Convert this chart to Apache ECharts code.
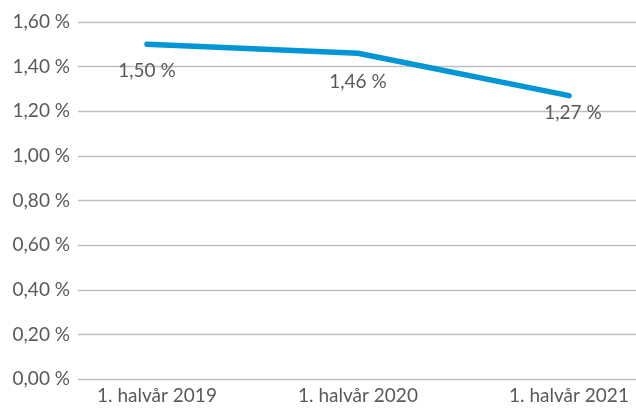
<!DOCTYPE html>
<html><head><meta charset="utf-8">
<script src="https://cdn.jsdelivr.net/npm/echarts@6/dist/echarts.min.js"></script>
<style>html,body{margin:0;padding:0;background:#fff}#c{width:636px;height:412px}</style>
</head><body><div id="c"></div>
<script>
const categories = ['1. halvår 2019', '1. halvår 2020', '1. halvår 2021'];
const values = [1.50, 1.46, 1.27];
const yTicks = [0, 0.2, 0.4, 0.6, 0.8, 1.0, 1.2, 1.4, 1.6];
const labelOffsets = [[0, 16], [0, 18], [4, 7]];

const fmt = v => v.toFixed(2).replace('.', ',') + ' %';
const font = 'Lato, "Open Sans", sans-serif';
const chart = echarts.init(document.getElementById('c'), null, {renderer: 'canvas'});
chart.setOption({
  animation: false,
  grid: [
    {left: 78, width: 558, top: 22, height: 357, outerBoundsMode: 'none', containLabel: false},
    {left: 41.5, width: 633, top: 22, height: 357, outerBoundsMode: 'none', containLabel: false}
  ],
  xAxis: [
    {gridIndex: 0, type: 'category', data: categories, show: false},
    {gridIndex: 1, type: 'category', data: categories.map((c, i) => i === 0 ? {value: c, textStyle: {padding: [0, 0, 0, 20]}} : c),
     axisLine: {show: false}, axisTick: {show: false},
     axisLabel: {color: '#595959', fontSize: 19, fontFamily: font, margin: 7}}
  ],
  yAxis: [
    {gridIndex: 0, type: 'value', min: yTicks[0], max: yTicks[yTicks.length - 1], interval: 0.2,
     axisLine: {show: false}, axisTick: {show: false},
     axisLabel: {color: '#595959', fontSize: 19, fontFamily: font, margin: 8, formatter: fmt},
     splitLine: {lineStyle: {color: '#bfbfbf', width: 1.3}}},
    {gridIndex: 1, type: 'value', min: yTicks[0], max: yTicks[yTicks.length - 1], interval: 0.2, show: false, splitLine: {show: false}}
  ],
  series: [{
    type: 'line', xAxisIndex: 1, yAxisIndex: 1,
    data: values.map((v, i) => ({value: v, label: {distance: labelOffsets[i][1], offset: [labelOffsets[i][0], 0]}})),
    symbol: 'circle', symbolSize: 2, showSymbol: true,
    itemStyle: {color: 'rgba(0,0,0,0)'},
    lineStyle: {color: '#0096d6', width: 5.5, cap: 'round', join: 'round'},
    label: {show: true, position: 'bottom', color: '#595959', fontSize: 19, fontFamily: font, formatter: p => fmt(p.value)}
  }]
});
</script></body></html>
